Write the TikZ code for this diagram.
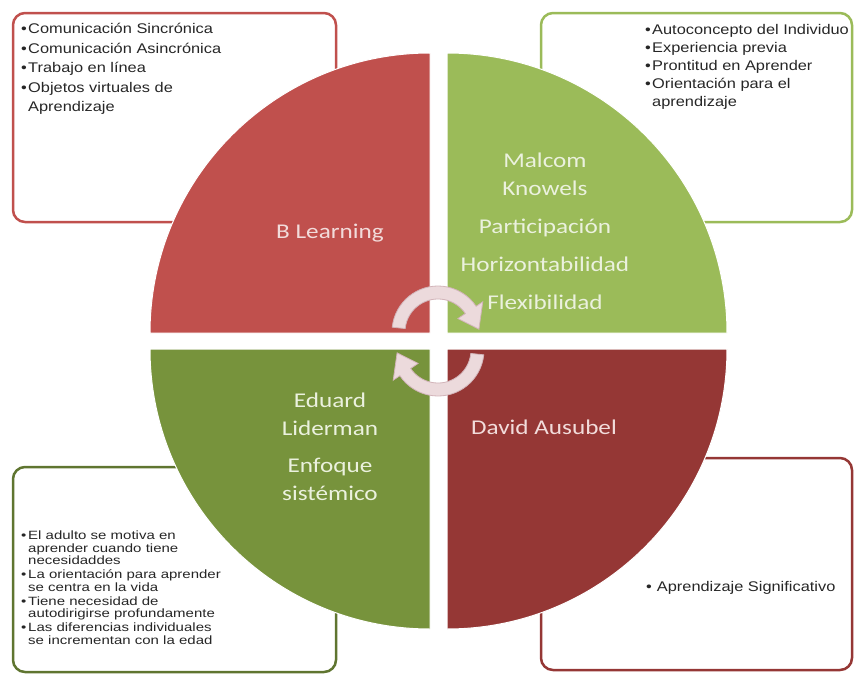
\documentclass[tikz,border=0pt]{standalone}
\usepackage{fontspec}
\setmainfont[FakeStretch=1.17]{Liberation Sans}
\newfontfamily\quadfont[FakeStretch=1.2]{Carlito}
\newfontfamily\notefont[FakeStretch=1.25]{Liberation Sans}
\definecolor{qred}{HTML}{C0504D}
\definecolor{qgreen}{HTML}{9BBB59}
\definecolor{qolive}{HTML}{77933C}
\definecolor{qmaroon}{HTML}{953735}
\definecolor{boxolive}{HTML}{5F7530}
\definecolor{pinktext}{HTML}{F2DCDB}
\definecolor{greentext}{HTML}{EBF1DE}
\definecolor{arrowfill}{RGB}{236,218,220}
\definecolor{arrowedge}{RGB}{210,180,185}
\definecolor{notetext}{HTML}{262626}
\newcommand{\bul}{\makebox[7pt][l]{\textbullet}}
\begin{document}
\begin{tikzpicture}[x=1pt, y=-1pt,
  notebox/.style={rounded corners=12pt, line width=2.5pt},
  quarter/.style={draw=white, line width=1pt},
  quadtext/.style={font=\quadfont\fontsize{21}{28}\selectfont, align=center},
  note/.style={font=\fontsize{14}{19.5}\selectfont, text=notetext, align=left, inner sep=0pt, anchor=north west},
  cyclearrow/.style={fill=arrowfill, draw=arrowedge, line width=0.8pt}]
\useasboundingbox (0,0) rectangle (855,675);
\draw[notebox, draw=qred] (13,13) rectangle (336,222);
\draw[notebox, draw=qgreen] (541,13) rectangle (852,222);
\draw[notebox, draw=boxolive] (13,467) rectangle (336,672);
\draw[notebox, draw=qmaroon] (541,458) rectangle (852,670);
\filldraw[quarter, fill=qred] (430,333) -- (150,333) arc[start angle=180, end angle=270, radius=280] -- cycle;
\filldraw[quarter, fill=qgreen] (447,333) -- (447,53) arc[start angle=270, end angle=360, radius=280] -- cycle;
\filldraw[quarter, fill=qmaroon] (447,349) -- (727,349) arc[start angle=0, end angle=90, radius=280] -- cycle;
\filldraw[quarter, fill=qolive] (430,349) -- (430,629) arc[start angle=90, end angle=180, radius=280] -- cycle;
\filldraw[cyclearrow, shift={(438,332)}] (186:46) arc[start angle=186, end angle=326, radius=46] -- (326:54) -- (356:41) -- (326:24) -- (326:33) arc[start angle=326, end angle=186, radius=33] -- cycle;
\filldraw[cyclearrow, shift={(438,350)}] (6:46) arc[start angle=6, end angle=146, radius=46] -- (146:54) -- (176:41) -- (146:24) -- (146:33) arc[start angle=146, end angle=6, radius=33] -- cycle;
\node[quadtext, text=pinktext] (blearn) at (330,233) {B Learning};
\node[quadtext, text=greentext] (knowels) at (545,231) {Malcom\\Knowels\\[10pt]Participación\\[10pt]Horizontabilidad\\[10pt]Flexibilidad};
\node[quadtext, text=greentext] (liderman) at (330,447) {Eduard\\Liderman\\[9pt]Enfoque\\sistémico};
\node[quadtext, text=pinktext] (ausubel) at (544,427) {David Ausubel};
\node[note] (virtual) at (21,23) {\bul Comunicación Sincrónica\\\bul Comunicación Asincrónica\\\bul Trabajo en línea\\\bul Objetos virtuales de\\\hspace*{7pt}Aprendizaje};
\node[note, font=\fontsize{14}{18}\selectfont] (andragogy) at (645,24) {\bul Autoconcepto del Individuo\\\bul Experiencia previa\\\bul Prontitud en Aprender\\\bul Orientación para el\\\hspace*{7pt}aprendizaje};
\node[note, font=\notefont\fontsize{12}{12.5}\selectfont] (adult) at (21,531) {\bul El adulto se motiva en\\\hspace*{7pt}aprender cuando tiene\\\hspace*{7pt}necesidaddes\\[1.5pt]\bul La orientación para aprender\\\hspace*{7pt}se centra en la vida\\[1.5pt]\bul Tiene necesidad de\\\hspace*{7pt}autodirigirse profundamente\\[1.5pt]\bul Las diferencias individuales\\\hspace*{7pt}se incrementan con la edad};
\node[note] (meaning) at (646,581) {\textbullet\hspace{5pt}Aprendizaje Significativo};
\end{tikzpicture}
\end{document}
